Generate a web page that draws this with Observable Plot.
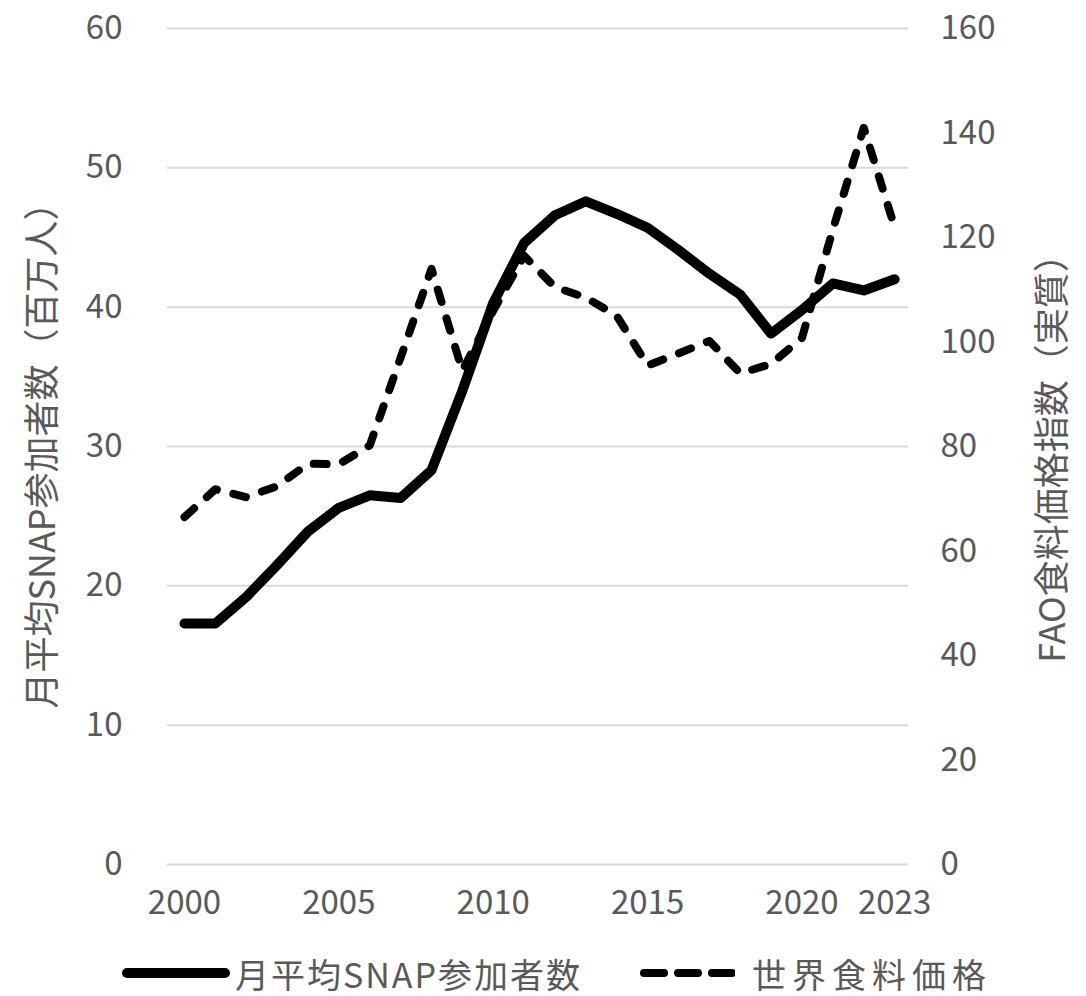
<!DOCTYPE html>
<html><head><meta charset="utf-8">
<script src="https://cdn.jsdelivr.net/npm/d3@7"></script>
<script src="https://cdn.jsdelivr.net/npm/@observablehq/plot@0.6"></script>
<style>
html,body{margin:0;padding:0;background:#fff;overflow:hidden;}
#legend{position:relative;height:46px;width:1086px;font-family:'Noto Sans CJK JP',sans-serif;font-size:34px;color:#595959}
#legend .item{position:absolute;top:0;height:46px;display:flex;align-items:center;white-space:nowrap}
#legend svg{display:block}
</style></head><body>
<div id="chart"></div>
<div id="legend"></div>
<script>
const years = [2000,2001,2002,2003,2004,2005,2006,2007,2008,2009,2010,2011,2012,2013,2014,2015,2016,2017,2018,2019,2020,2021,2022,2023];
const snapMillions = [17.3,17.3,19.2,21.5,23.9,25.6,26.5,26.3,28.3,34.0,40.3,44.6,46.6,47.6,46.7,45.7,44.1,42.4,40.9,38.1,39.8,41.7,41.2,42.0];
const foodPriceIndex = [66.5,71.8,70.3,72.4,76.7,76.6,80.2,97,114,94.5,106,116.5,110.5,108.5,105,95.5,97.8,100.2,94,95.8,100.8,121.5,141,122];
const leftTicks = [0,10,20,30,40,50,60];
const rightTicks = [0,20,40,60,80,100,120,140,160];
const xTicks = [2000,2005,2010,2015,2020,2023];
const seriesNames = ["月平均SNAP参加者数","世界食料価格"];
const leftTitle = "月平均SNAP参加者数（百万人）";
const rightTitle = "FAO食料価格指数（実質）";

const ratio = 60 / 160;
const rows = years.map((year, i) => ({year, snap: snapMillions[i], food: foodPriceIndex[i] * ratio}));

const W = 1086, H = 950;
const plot = Plot.plot({
  width: W, height: H,
  marginTop: 28, marginBottom: H - 864, marginLeft: 167, marginRight: W - 908,
  style: {fontFamily: "'Noto Sans CJK JP', sans-serif", fontSize: "33px", color: "#595959", background: "#fff"},
  x: {type: "linear", domain: [1999.45, 2023.45]},
  y: {domain: [0, 60]},
  marks: [
    Plot.gridY(leftTicks, {stroke: "#d9d9d9", strokeOpacity: 1, strokeWidth: 2}),
    Plot.axisY(leftTicks, {anchor: "left", tickSize: 0, tickPadding: 45, label: null}),
    Plot.axisY(rightTicks.map(t => t * ratio), {anchor: "right", tickSize: 0, tickPadding: 32, label: null, tickFormat: d => String(Math.round(d / ratio))}),
    Plot.axisX(xTicks, {tickSize: 0, tickPadding: 26, label: null, tickFormat: d => String(d)}),
    Plot.line(rows, {x: "year", y: "food", stroke: "black", strokeWidth: 8, strokeDasharray: "13,17", strokeLinecap: "round", strokeLinejoin: "round"}),
    Plot.line(rows, {x: "year", y: "snap", stroke: "black", strokeWidth: 10, strokeLinecap: "round", strokeLinejoin: "round"}),
    Plot.text([leftTitle], {frameAnchor: "left", textAnchor: "middle", dx: -124, dy: 0, rotate: -90, fill: "#595959", fontSize: 36, ariaLabel: "left-title"}),
    Plot.text([rightTitle], {frameAnchor: "right", textAnchor: "middle", dx: 145, dy: 3, rotate: -90, fill: "#595959", fontSize: 36, ariaLabel: "right-title"})
  ]
});
document.getElementById("chart").appendChild(plot);
d3.select(plot).selectAll('g[aria-label="left-title"] text').attr("textLength", 598).attr("lengthAdjust", "spacing");
d3.select(plot).selectAll('g[aria-label="right-title"] text').attr("textLength", 527).attr("lengthAdjust", "spacing");

// legend
const legend = d3.select("#legend");
const item1 = legend.append("div").attr("class", "item").style("left", "122px");
const s1 = item1.append("svg").attr("width", 108).attr("height", 20);
s1.append("line").attr("x1", 5).attr("x2", 103).attr("y1", 10).attr("y2", 10)
  .attr("stroke", "black").attr("stroke-width", 10).attr("stroke-linecap", "round");
item1.append("span").style("margin-left", "5px").style("letter-spacing", "2px").text(seriesNames[0]);
const item2 = legend.append("div").attr("class", "item").style("left", "640px");
const s2 = item2.append("svg").attr("width", 95).attr("height", 20);
s2.append("line").attr("x1", 4).attr("x2", 95).attr("y1", 10).attr("y2", 10)
  .attr("stroke", "black").attr("stroke-width", 8).attr("stroke-dasharray", "20,14").attr("stroke-linecap", "round");
item2.append("span").style("margin-left", "17px").style("letter-spacing", "6px").text(seriesNames[1]);
</script>
</body></html>
